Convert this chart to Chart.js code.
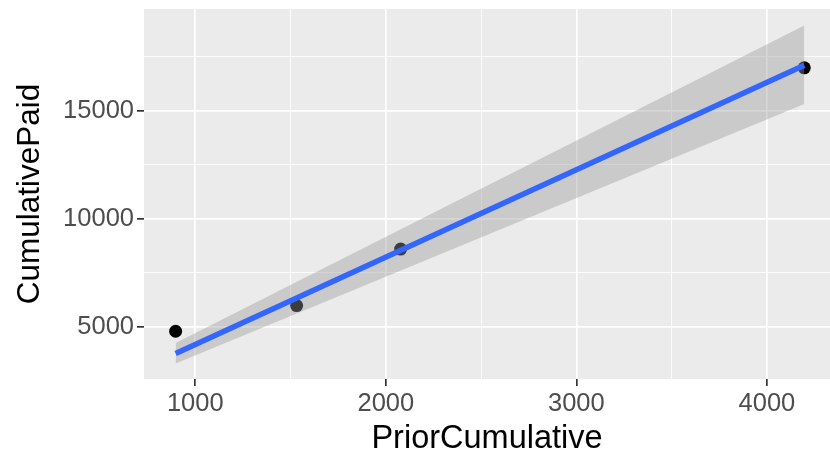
<!DOCTYPE html>
<html><head><meta charset="utf-8">
<script src="https://cdn.jsdelivr.net/npm/chart.js@4/dist/chart.umd.min.js"></script>
<style>html,body{margin:0;padding:0;background:#fff}#wrap{width:830px;height:459px}</style>
</head><body><div id="wrap"><canvas id="c" width="830" height="459"></canvas></div>
<script>
const priorCumulative = [897, 1532, 2078, 4196];
const cumulativePaid = [4791, 5979, 8595, 16990];
const fitX = [897, 4196];
const fitY = [3760, 17110];
const fitLower = [3300, 15320];
const fitUpper = [4250, 18950];
const xMajorTicks = [1000, 2000, 3000, 4000];
const xMinorTicks = [1500, 2500, 3500];
const yMajorTicks = [5000, 10000, 15000];
const yMinorTicks = [7500, 12500, 17500];
const xLabel = 'PriorCumulative';
const yLabel = 'CumulativePaid';

const FONT = "'Liberation Sans', Arial, sans-serif";
const toXY = (xs, ys) => xs.map((x, i) => ({x: x, y: ys[i]}));

const panelBg = {
  id: 'panelBg',
  beforeDraw(chart) {
    const a = chart.chartArea, c = chart.ctx;
    c.save(); c.fillStyle = '#EBEBEB';
    c.fillRect(a.left, a.top, a.right - a.left, a.bottom - a.top);
    c.restore();
  }
};

function axisCfg(min, max, major, minor, isX) {
  const isMajor = v => major.includes(v);
  return {
    type: 'linear', min: min, max: max,
    afterBuildTicks: s => { s.ticks = major.concat(minor).sort((a, b) => a - b).map(v => ({value: v})); },
    afterFit: s => {
      if (isX) s.height = 80; else s.width = 144;
      s.paddingTop = 0; s.paddingBottom = 0; s.paddingLeft = 0; s.paddingRight = 0;
    },
    border: {display: false},
    grid: {
      color: '#FFFFFF',
      lineWidth: ctx => ctx.tick && isMajor(ctx.tick.value) ? 1.7 : 0.85,
      tickColor: ctx => ctx.tick && isMajor(ctx.tick.value) ? '#333333' : 'rgba(0,0,0,0)',
      tickLength: 7, tickWidth: 1.7, drawOnChartArea: true
    },
    ticks: {
      autoSkip: false, maxRotation: 0, padding: 3, color: '#4D4D4D',
      font: {family: FONT, size: 25.5},
      callback: v => isMajor(v) ? String(v) : ''
    },
    title: {display: true, text: isX ? xLabel : yLabel, color: '#000000',
      font: {family: FONT, size: isX ? 32.5 : 31.5},
      padding: isX ? {top: -1, bottom: 0} : {top: 11, bottom: 0}}
  };
}

new Chart(document.getElementById('c'), {
  type: 'scatter',
  data: {
    datasets: [
      {type: 'scatter', data: toXY(priorCumulative, cumulativePaid), backgroundColor: '#000000',
        borderWidth: 0, pointRadius: 6.5, order: 3},
      {type: 'line', data: toXY(fitX, fitLower), borderColor: 'rgba(0,0,0,0)', borderWidth: 0,
        pointRadius: 0, fill: false, order: 2},
      {type: 'line', data: toXY(fitX, fitUpper), borderColor: 'rgba(0,0,0,0)', borderWidth: 0,
        pointRadius: 0, fill: '-1', backgroundColor: 'rgba(153,153,153,0.4)', order: 2},
      {type: 'line', data: toXY(fitX, fitY), borderColor: '#3366FF', borderWidth: 5.5,
        pointRadius: 0, fill: false, order: 1}
    ]
  },
  options: {
    responsive: false, animation: false, devicePixelRatio: 1,
    layout: {autoPadding: false, padding: {left: 0, right: 0, top: 9, bottom: 0}},
    plugins: {legend: {display: false}, tooltip: {enabled: false}},
    scales: {
      x: axisCfg(731, 4331, xMajorTicks, xMinorTicks, true),
      y: axisCfg(2579, 19717, yMajorTicks, yMinorTicks, false)
    }
  },
  plugins: [panelBg]
});
</script></body></html>
